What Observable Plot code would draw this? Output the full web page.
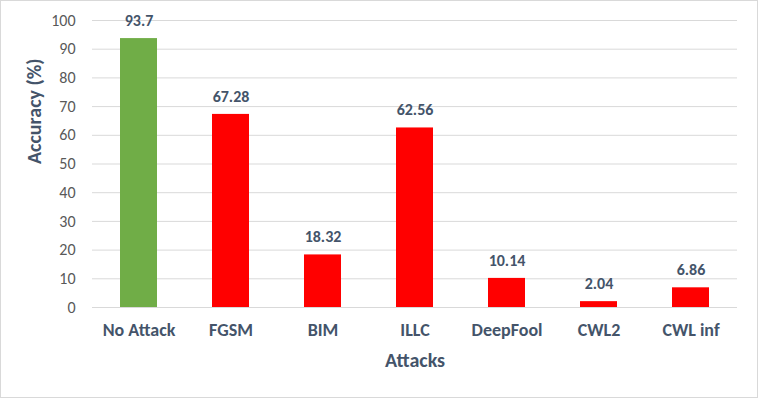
<!DOCTYPE html>
<html>
<head>
<meta charset="utf-8">
<script src="https://cdn.jsdelivr.net/npm/d3@7"></script>
<script src="https://cdn.jsdelivr.net/npm/@observablehq/plot@0.6"></script>
<style>
  html, body { margin: 0; padding: 0; background: #fff; }
  #wrap { position: relative; width: 759px; height: 405px; overflow: hidden; }
  #border { position: absolute; left: 0; top: 0; width: 756px; height: 396px; border: 1px solid #d9d9d9; pointer-events: none; }
  svg { font-family: Carlito, Lato, sans-serif; }
</style>
</head>
<body>
<div id="wrap"><div id="border"></div></div>
<script>
const categories = ["No Attack", "FGSM", "BIM", "ILLC", "DeepFool", "CWL2", "CWL inf"];
const values = [93.7, 67.28, 18.32, 62.56, 10.14, 2.04, 6.86];
const barColors = ["#70AD47", "#FF0000", "#FF0000", "#FF0000", "#FF0000", "#FF0000", "#FF0000"];
const yTicks = [0, 10, 20, 30, 40, 50, 60, 70, 80, 90, 100];
const yTitle = "Accuracy (%)";
const xTitle = "Attacks";

const data = categories.map((c, i) => ({cat: c, val: values[i], color: barColors[i]}));
const textColor = "#44546A";

const chart = Plot.plot({
  width: 759,
  height: 405,
  marginLeft: 92,
  marginRight: 22,
  marginTop: 20,
  marginBottom: 98,
  style: {fontFamily: "Carlito, Lato, sans-serif", background: "transparent"},
  x: {domain: categories, paddingInner: 0.6, paddingOuter: 0.3, label: null},
  y: {domain: [0, 100], label: null},
  marks: [
    Plot.gridY(yTicks, {stroke: "#d9d9d9", strokeOpacity: 1, strokeWidth: 1}),
    Plot.barY(data, {x: "cat", y: "val", fill: "color"}),
    Plot.text(data, {x: "cat", y: "val", text: d => String(d.val), dy: -18, fontWeight: "bold", fontSize: 16, fill: textColor}),
    Plot.axisY(yTicks, {tickSize: 0, tickPadding: 17, fontSize: 16, color: "#595959", label: null}),
    Plot.axisX({tickSize: 0, tickPadding: 16, fontSize: 18, fontWeight: "bold", color: textColor, label: null}),
    Plot.text([xTitle], {frameAnchor: "bottom", dy: 59, fontSize: 20, fontWeight: "bold", fill: textColor}),
    Plot.text([yTitle], {frameAnchor: "left", dx: -58, dy: 0, rotate: -90, fontSize: 20, fontWeight: "bold", fill: textColor})
  ]
});
document.getElementById("wrap").prepend(chart);
</script>
</body>
</html>
